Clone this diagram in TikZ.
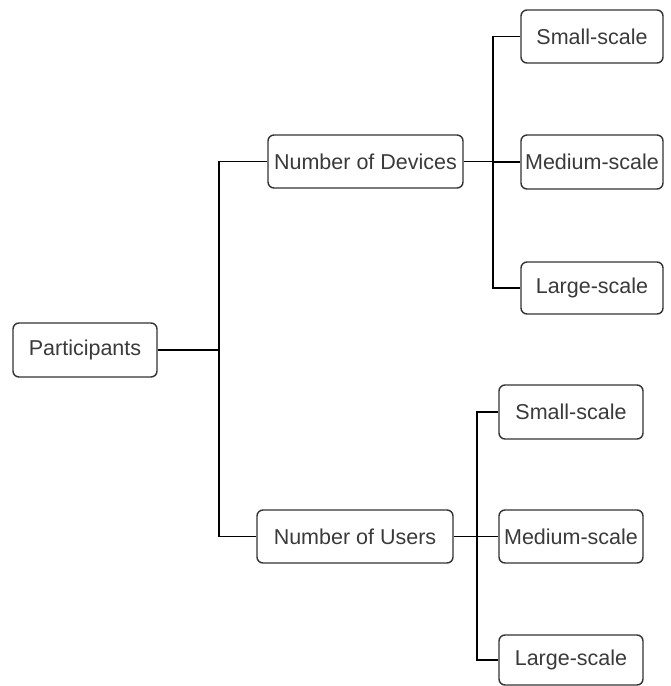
\documentclass[tikz,border=0pt]{standalone}
\usepackage{fontspec}
\setmainfont{Liberation Sans}
\definecolor{boxline}{HTML}{333333}
\definecolor{txt}{HTML}{3A3A3A}
\begin{document}
\begin{tikzpicture}[x=1pt,y=-1pt,
  box/.style={draw=boxline, line width=1.4pt, rounded corners=6pt, inner sep=0pt,
    text=txt, font=\fontsize{21.5}{25}\selectfont, fill=white},
  conn/.style={draw=black, line width=1.3pt}]
\useasboundingbox (0,0) rectangle (671,686);
\node[box, minimum width=144pt, minimum height=54pt] (p) at (85,350) {Participants};
\node[box, minimum width=195pt, minimum height=53pt] (d) at (365.5,161.5) {Number of Devices};
\node[box, minimum width=196pt, minimum height=53pt] (u) at (355,536.5) {Number of Users};
\node[box, minimum width=142pt, minimum height=53pt] (ds) at (592,36.5) {Small-scale};
\node[box, minimum width=142pt, minimum height=54pt] (dm) at (592,162) {Medium-scale};
\node[box, minimum width=142pt, minimum height=52pt] (dl) at (592,288) {Large-scale};
\node[box, minimum width=144pt, minimum height=54pt] (us) at (571,412) {Small-scale};
\node[box, minimum width=144pt, minimum height=53pt] (um) at (571,536.5) {Medium-scale};
\node[box, minimum width=144pt, minimum height=50pt] (ul) at (571,660) {Large-scale};
\coordinate (t1) at (219,350);
\coordinate (t2) at (493,161.5);
\coordinate (t3) at (477,536.5);
\draw[conn, line width=2pt] (p.east) -- (p.east -| t1);
\draw[conn] (p.east -| t1) |- (d.west);
\draw[conn] (p.east -| t1) |- (u.west);
\draw[conn] (d.east) -- (d.east -| t2);
\draw[conn] (d.east -| t2) |- (ds.west);
\draw[conn] (d.east -| t2) |- (dm.west);
\draw[conn] (d.east -| t2) |- (dl.west);
\draw[conn] (u.east) -- (u.east -| t3);
\draw[conn] (u.east -| t3) |- (us.west);
\draw[conn] (u.east -| t3) |- (um.west);
\draw[conn] (u.east -| t3) |- (ul.west);
\end{tikzpicture}
\end{document}
